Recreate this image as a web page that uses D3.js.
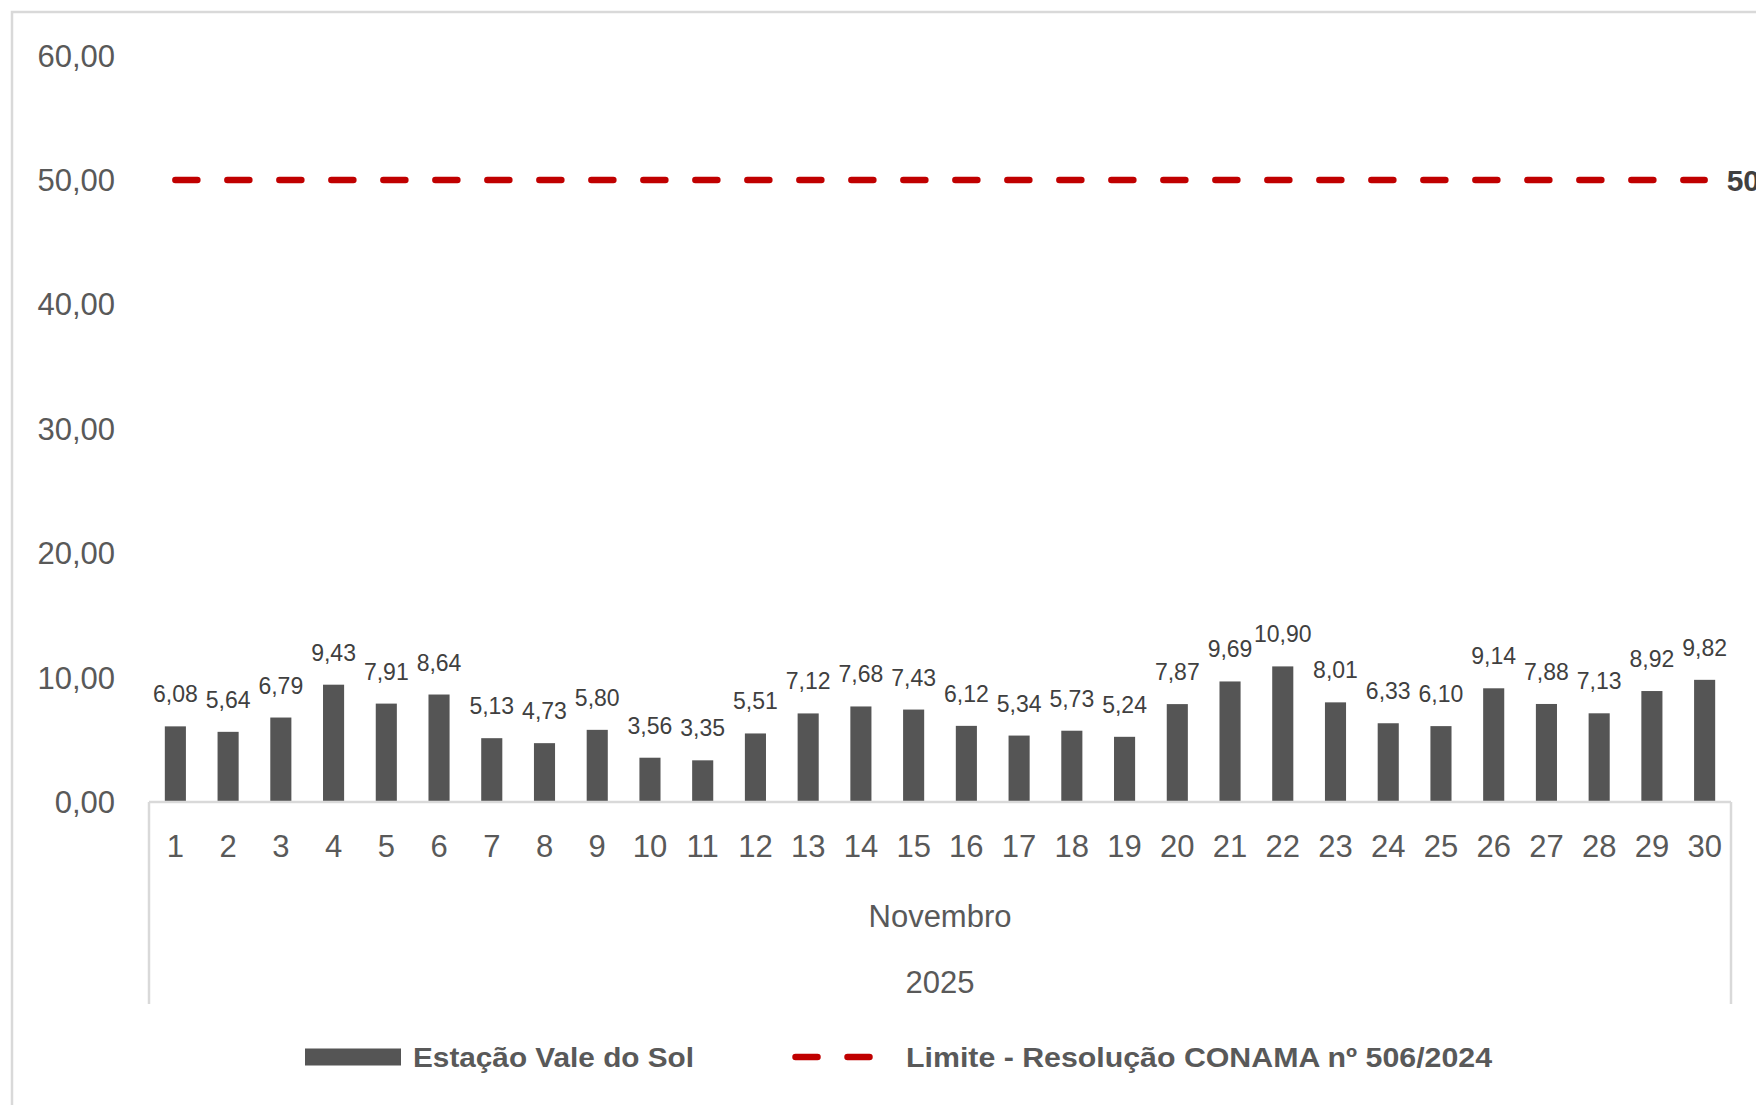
<!DOCTYPE html>
<html lang="pt-BR">
<head>
<meta charset="utf-8">
<script src="https://cdn.jsdelivr.net/npm/d3@7"></script>
<style>
  html, body { margin: 0; padding: 0; background: #ffffff; }
  svg { display: block; }
</style>
</head>
<body>
<svg id="chart" width="1756" height="1105"></svg>
<script>
// Daily concentrations, November 2025
const days = ["1","2","3","4","5","6","7","8","9","10","11","12","13","14","15",
              "16","17","18","19","20","21","22","23","24","25","26","27","28","29","30"];
const stationValues = [6.08, 5.64, 6.79, 9.43, 7.91, 8.64, 5.13, 4.73, 5.80, 3.56,
                       3.35, 5.51, 7.12, 7.68, 7.43, 6.12, 5.34, 5.73, 5.24, 7.87,
                       9.69, 10.90, 8.01, 6.33, 6.10, 9.14, 7.88, 7.13, 8.92, 9.82];
const limitValues = [50, 50, 50, 50, 50, 50, 50, 50, 50, 50,
                     50, 50, 50, 50, 50, 50, 50, 50, 50, 50,
                     50, 50, 50, 50, 50, 50, 50, 50, 50, 50];
const yTicks = [0, 10, 20, 30, 40, 50, 60];
const monthLabel = "Novembro";
const yearLabel = "2025";
const seriesNames = ["Estação Vale do Sol", "Limite - Resolução CONAMA nº 506/2024"];

const ptBR = d3.formatLocale({ decimal: ",", thousands: ".", grouping: [3], currency: ["R$ ", ""] });
const fmt = ptBR.format(".2f");

const svg = d3.select("#chart");
const FONT = "'Liberation Sans', Arial, sans-serif";
const AXIS_GREY = "#d9d9d9";
const TEXT_GREY = "#595959";
const BAR_COLOR = "#555555";
const LIMIT_COLOR = "#c00000";

// outer chart frame
svg.append("rect")
  .attr("x", 12).attr("y", 12)
  .attr("width", 1900).attr("height", 1200)
  .attr("fill", "none").attr("stroke", AXIS_GREY).attr("stroke-width", 2.5);

const plot = { left: 149, right: 1731, top: 55.6, bottom: 802 };

const x = d3.scaleBand().domain(days).range([plot.left, plot.right]).paddingInner(0.6).paddingOuter(0.3);
const y = d3.scaleLinear().domain([0, 60]).range([plot.bottom, plot.top]);

// y axis labels
svg.append("g")
  .selectAll("text")
  .data(yTicks)
  .join("text")
  .attr("x", 115)
  .attr("y", d => y(d) + 11)
  .attr("text-anchor", "end")
  .attr("font-family", FONT)
  .attr("font-size", 31)
  .attr("fill", TEXT_GREY)
  .text(d => fmt(d));

// bars
svg.append("g")
  .selectAll("rect")
  .data(stationValues)
  .join("rect")
  .attr("x", (d, i) => x(days[i]))
  .attr("y", d => y(d))
  .attr("width", x.bandwidth())
  .attr("height", d => y(0) - y(d))
  .attr("fill", BAR_COLOR);

// bar value labels
svg.append("g")
  .selectAll("text")
  .data(stationValues)
  .join("text")
  .attr("x", (d, i) => x(days[i]) + x.bandwidth() / 2)
  .attr("y", d => y(d) - 24)
  .attr("text-anchor", "middle")
  .attr("font-family", FONT)
  .attr("font-size", 23)
  .attr("fill", "#404040")
  .text(d => fmt(d));

// category axis: baseline plus group separators
const axisG = svg.append("g").attr("stroke", AXIS_GREY).attr("stroke-width", 2.5);
axisG.append("line")
  .attr("x1", plot.left).attr("x2", plot.right)
  .attr("y1", y(0)).attr("y2", y(0));
axisG.append("line")
  .attr("x1", plot.left).attr("x2", plot.left)
  .attr("y1", y(0)).attr("y2", 1004);
axisG.append("line")
  .attr("x1", plot.right).attr("x2", plot.right)
  .attr("y1", y(0)).attr("y2", 1004);

svg.append("g")
  .selectAll("text")
  .data(days)
  .join("text")
  .attr("x", d => x(d) + x.bandwidth() / 2)
  .attr("y", 857)
  .attr("text-anchor", "middle")
  .attr("font-family", FONT)
  .attr("font-size", 31)
  .attr("fill", TEXT_GREY)
  .text(d => d);

const midX = (plot.left + plot.right) / 2;
svg.append("text")
  .attr("x", midX).attr("y", 927)
  .attr("text-anchor", "middle")
  .attr("font-family", FONT).attr("font-size", 31)
  .attr("fill", TEXT_GREY)
  .text(monthLabel);
svg.append("text")
  .attr("x", midX).attr("y", 993)
  .attr("text-anchor", "middle")
  .attr("font-family", FONT).attr("font-size", 31)
  .attr("fill", TEXT_GREY)
  .text(yearLabel);

// limit line
const limitLine = d3.line()
  .x((d, i) => x(days[i]) + x.bandwidth() / 2)
  .y(d => y(d));
svg.append("path")
  .datum(limitValues)
  .attr("d", limitLine)
  .attr("fill", "none")
  .attr("stroke", LIMIT_COLOR)
  .attr("stroke-width", 6.5)
  .attr("stroke-linecap", "round")
  .attr("stroke-dasharray", "22 30");

// value label at the end of the limit line
const lastIdx = limitValues.length - 1;
svg.append("text")
  .attr("x", x(days[lastIdx]) + x.bandwidth() / 2 + 22)
  .attr("y", y(limitValues[lastIdx]) + 11)
  .attr("font-family", FONT).attr("font-size", 30).attr("font-weight", "bold")
  .attr("fill", "#404040")
  .text(fmt(limitValues[lastIdx]));

// legend
const legendY = 1057;
svg.append("rect")
  .attr("x", 305).attr("y", legendY - 8.5)
  .attr("width", 96).attr("height", 17)
  .attr("fill", BAR_COLOR);
svg.append("text")
  .attr("x", 413).attr("y", legendY + 10)
  .attr("font-family", FONT).attr("font-size", 27).attr("font-weight", "bold")
  .attr("fill", TEXT_GREY)
  .attr("textLength", 281).attr("lengthAdjust", "spacingAndGlyphs")
  .text(seriesNames[0]);

svg.append("line")
  .attr("x1", 795.5).attr("x2", 870)
  .attr("y1", legendY).attr("y2", legendY)
  .attr("stroke", LIMIT_COLOR)
  .attr("stroke-width", 6.5)
  .attr("stroke-linecap", "round")
  .attr("stroke-dasharray", "22 30");
svg.append("text")
  .attr("x", 906).attr("y", legendY + 10)
  .attr("font-family", FONT).attr("font-size", 27).attr("font-weight", "bold")
  .attr("fill", TEXT_GREY)
  .attr("textLength", 586).attr("lengthAdjust", "spacingAndGlyphs")
  .text(seriesNames[1]);
</script>
</body>
</html>
